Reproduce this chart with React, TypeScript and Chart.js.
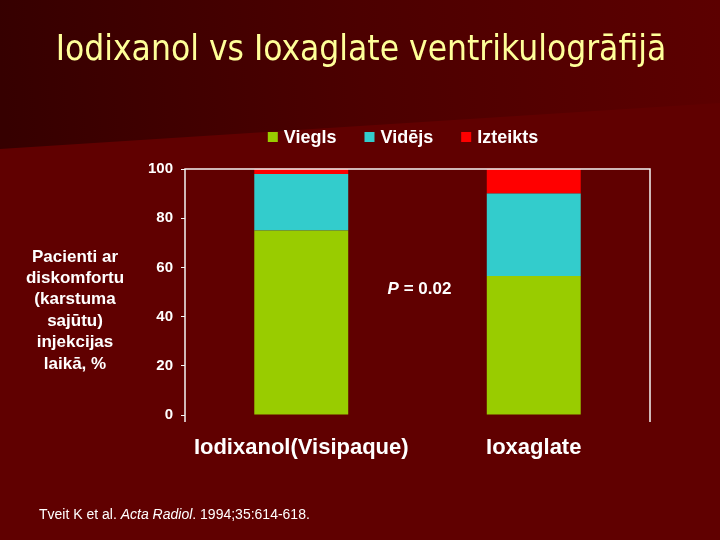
import { useEffect, useRef } from "react";
import { Chart, registerables } from "chart.js";

Chart.register(...registerables);

const categories = ["Iodixanol(Visipaque)", "Ioxaglate"];
const seriesLabels = ["Viegls", "Vidējs", "Izteikts"];
const vieglsValues = [75, 56.5];
const videjsValues = [23, 33.5];
const izteiktsValues = [2, 10];
const yMin = 0;
const yMax = 100;
const yStep = 20;
const titleText = "Iodixanol vs Ioxaglate ventrikulogrāfijā";
const yTitleLines = ["Pacienti ar", "diskomfortu", "(karstuma", "sajūtu)", "injekcijas", "laikā, %"];
const pLabel = "P";
const pRest = " = 0.02";
const citationParts: [string, boolean][] = [
  ["Tveit K et al. ", false],
  ["Acta Radiol", true],
  [". 1994;35:614-618.", false],
];

const seriesColors = ["#99CC00", "#33CCCC", "#FF0000"];
const ARIAL = "Arial, 'Liberation Sans', sans-serif";
const BG = "#600000";

const decorPlugin = {
  id: "decor",
  beforeDraw(chart: any) {
    const { ctx, width, height } = chart;
    ctx.save();
    ctx.fillStyle = BG;
    ctx.fillRect(0, 0, width, height);
    const g = ctx.createLinearGradient(0, 60, 720, 0);
    g.addColorStop(0, "#360000");
    g.addColorStop(0.5, "#4c0000");
    g.addColorStop(1, "#5c0000");
    ctx.fillStyle = g;
    ctx.beginPath();
    ctx.moveTo(0, 0);
    ctx.lineTo(width, 0);
    ctx.lineTo(width, 103);
    ctx.lineTo(0, 149);
    ctx.closePath();
    ctx.fill();
    ctx.restore();
  },
  afterDraw(chart: any) {
    const { ctx, chartArea } = chart;
    const { left, right, top, bottom } = chartArea;
    ctx.save();

    // plot frame (left, top, right)
    ctx.strokeStyle = "#f4f4f4";
    ctx.lineWidth = 1.5;
    ctx.beginPath();
    ctx.moveTo(left, bottom + 7);
    ctx.lineTo(left, top);
    ctx.lineTo(right, top);
    ctx.lineTo(right, bottom + 7);
    ctx.stroke();

    // title
    ctx.fillStyle = "#FFFF99";
    ctx.font = "35px 'DejaVu Sans Condensed', 'DejaVu Sans', sans-serif";
    ctx.textAlign = "center";
    ctx.textBaseline = "alphabetic";
    ctx.fillText(titleText, 361, 60);

    // legend
    ctx.font = `bold 18px ${ARIAL}`;
    ctx.textBaseline = "middle";
    ctx.textAlign = "left";
    const box = 10;
    const gapText = 6;
    const gapItem = 28;
    const datasets = chart.data.datasets;
    const widths = datasets.map((d: any) => box + gapText + ctx.measureText(d.label).width);
    const total = widths.reduce((a: number, b: number) => a + b, 0) + gapItem * (datasets.length - 1);
    let x = 403 - total / 2;
    const ly = 137;
    datasets.forEach((d: any, i: number) => {
      ctx.fillStyle = d.backgroundColor;
      ctx.fillRect(x, ly - box / 2, box, box);
      ctx.fillStyle = "#ffffff";
      ctx.fillText(d.label, x + box + gapText, ly + 1);
      x += widths[i] + gapItem;
    });

    // y-axis title (horizontal, multi-line)
    ctx.font = `bold 17px ${ARIAL}`;
    ctx.textAlign = "center";
    ctx.fillStyle = "#ffffff";
    yTitleLines.forEach((line, i) => {
      ctx.fillText(line, 75, 257 + i * 21.4);
    });

    // P annotation
    const xs = chart.scales.x;
    const ys = chart.scales.y;
    const cx = (xs.getPixelForValue(0) + xs.getPixelForValue(1)) / 2 + 2;
    const cy = ys.getPixelForValue(51);
    ctx.font = `italic bold 17px ${ARIAL}`;
    const wP = ctx.measureText(pLabel).width;
    ctx.font = `bold 17px ${ARIAL}`;
    const wR = ctx.measureText(pRest).width;
    const px = cx - (wP + wR) / 2;
    ctx.textAlign = "left";
    ctx.font = `italic bold 17px ${ARIAL}`;
    ctx.fillText(pLabel, px, cy);
    ctx.font = `bold 17px ${ARIAL}`;
    ctx.fillText(pRest, px + wP, cy);

    // citation
    ctx.textBaseline = "alphabetic";
    let tx = 39;
    citationParts.forEach(([t, it]) => {
      ctx.font = `${it ? "italic " : ""}14px ${ARIAL}`;
      ctx.fillText(t, tx, 519);
      tx += ctx.measureText(t).width;
    });

    ctx.restore();
  },
};

export default function App() {
  const canvasRef = useRef<HTMLCanvasElement | null>(null);

  useEffect(() => {
    if (!canvasRef.current) return;
    const valueSets = [vieglsValues, videjsValues, izteiktsValues];
    const chart = new Chart(canvasRef.current, {
      type: "bar",
      data: {
        labels: categories,
        datasets: seriesLabels.map((label, i) => ({
          label,
          data: valueSets[i],
          backgroundColor: seriesColors[i],
          borderWidth: 0,
          categoryPercentage: 0.8,
          barPercentage: 0.505,
        })),
      },
      options: {
        responsive: false,
        animation: false,
        devicePixelRatio: 1,
        layout: { padding: { left: 140, right: 70, top: 169, bottom: 65 } },
        plugins: {
          legend: { display: false },
          title: { display: false },
          tooltip: { enabled: false },
        },
        scales: {
          x: {
            stacked: true,
            grid: { display: false, drawTicks: false },
            border: { display: false },
            ticks: {
              color: "#ffffff",
              font: { family: ARIAL, size: 22, weight: "bold" },
              padding: 20,
              maxRotation: 0,
              autoSkip: false,
            },
            afterFit(scale: any) {
              scale.height = 60;
            },
          },
          y: {
            stacked: true,
            min: yMin,
            max: yMax,
            grid: {
              display: true,
              drawOnChartArea: false,
              drawTicks: true,
              tickLength: 4,
              color: "#f4f4f4",
              lineWidth: 1,
            },
            border: { display: false },
            ticks: {
              stepSize: yStep,
              color: "#ffffff",
              font: { family: ARIAL, size: 15, weight: "bold" },
              padding: 8,
            },
            afterFit(scale: any) {
              scale.width = 45;
            },
          },
        },
      },
      plugins: [decorPlugin],
    });
    return () => chart.destroy();
  }, []);

  return (
    <div style={{ position: "fixed", left: 0, top: 0, width: 720, height: 540, background: BG }}>
      <canvas ref={canvasRef} width={720} height={540} style={{ display: "block" }} />
    </div>
  );
}
